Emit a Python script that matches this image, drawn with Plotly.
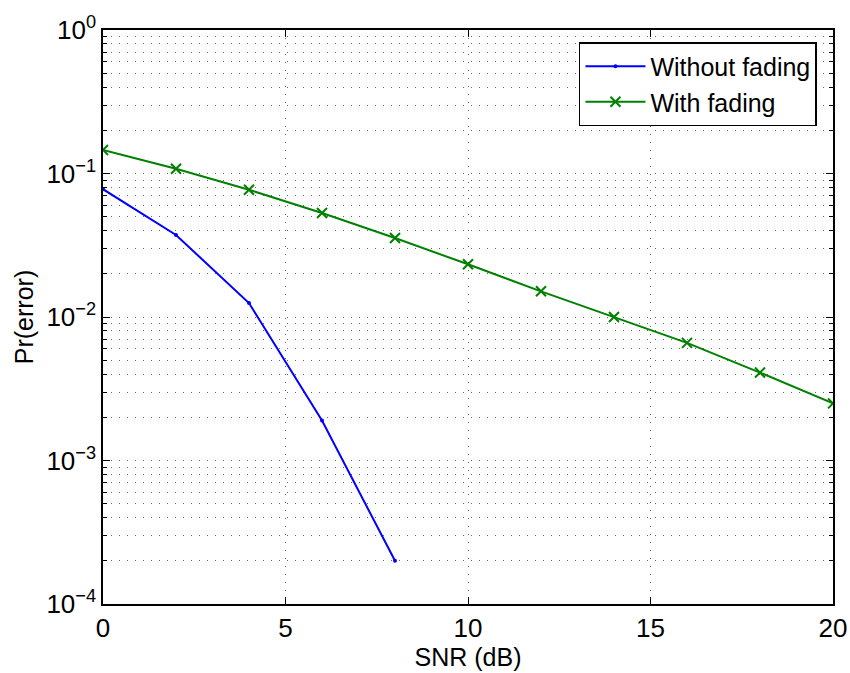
import plotly.graph_objects as go

snr_without = [0, 2, 4, 6, 8]
pe_without = [0.0777, 0.0373, 0.0125, 0.0019, 0.0002]

snr_with = [0, 2, 4, 6, 8, 10, 12, 14, 16, 18, 20]
pe_with = [0.146, 0.108, 0.077, 0.053, 0.0355, 0.0233, 0.0151, 0.0100, 0.0066, 0.0041, 0.0025]

x_ticks = [0, 5, 10, 15, 20]
y_ticks = [1e-4, 1e-3, 1e-2, 1e-1, 1e0]
y_ticktext = ["10<sup>\u22124</sup>", "10<sup>\u22123</sup>", "10<sup>\u22122</sup>",
              "10<sup>\u22121</sup>", "10<sup>0</sup>"]
y_minor = [m * 10.0 ** e for e in range(-4, 0) for m in range(2, 10)]

FONT = "Liberation Sans, Arial, Helvetica, sans-serif"
GRID = "rgba(0,0,0,0.6)"
DASH = "1px,7px"

fig = go.Figure()
fig.add_trace(go.Scatter(
    x=snr_without, y=pe_without, mode="lines+markers", name="Without fading",
    line=dict(color="#0000ff", width=2),
    marker=dict(symbol="circle", size=4, color="#0000ff"),
))
fig.add_trace(go.Scatter(
    x=snr_with, y=pe_with, mode="lines+markers", name="With fading",
    line=dict(color="#008000", width=2),
    marker=dict(symbol="x-thin", size=10, color="#008000",
                line=dict(color="#008000", width=2)),
))

fig.update_layout(
    width=850, height=673,
    margin=dict(l=103, r=17, t=30, b=69),
    paper_bgcolor="white", plot_bgcolor="white",
    font=dict(family=FONT, size=25, color="black"),
    showlegend=True,
    legend=dict(
        x=0.978, y=0.979, xanchor="right", yanchor="top",
        bgcolor="white", bordercolor="black", borderwidth=1.5,
        font=dict(size=25), tracegroupgap=0, itemwidth=60,
    ),
    xaxis=dict(
        range=[0, 20], tickvals=x_ticks, automargin=False,
        tickfont=dict(size=26),
        ticks="inside", ticklen=7, tickcolor="black",
        showline=True, linecolor="black", linewidth=1.5, mirror="ticks",
        showgrid=True, gridcolor=GRID, griddash=DASH, gridwidth=1,
        zeroline=False,
        title=dict(text="SNR (dB)", standoff=2, font=dict(size=25)),
    ),
    yaxis=dict(
        type="log", range=[-4, 0], automargin=False,
        tickvals=y_ticks, ticktext=y_ticktext,
        tickfont=dict(size=26),
        ticks="inside", ticklen=7, tickcolor="black",
        showline=True, linecolor="black", linewidth=1.5, mirror="ticks",
        showgrid=True, gridcolor=GRID, griddash=DASH, gridwidth=1,
        zeroline=False,
        minor=dict(tickvals=y_minor, ticks="inside", ticklen=4, tickcolor="black",
                   showgrid=True, gridcolor=GRID, griddash=DASH, gridwidth=1),
        title=dict(text="Pr(error)", standoff=6, font=dict(size=25)),
    ),
)

fig.write_html(
    "out.html",
    config={"displayModeBar": False},
    post_script="document.body.style.margin='0';document.body.style.overflow='hidden';",
)
